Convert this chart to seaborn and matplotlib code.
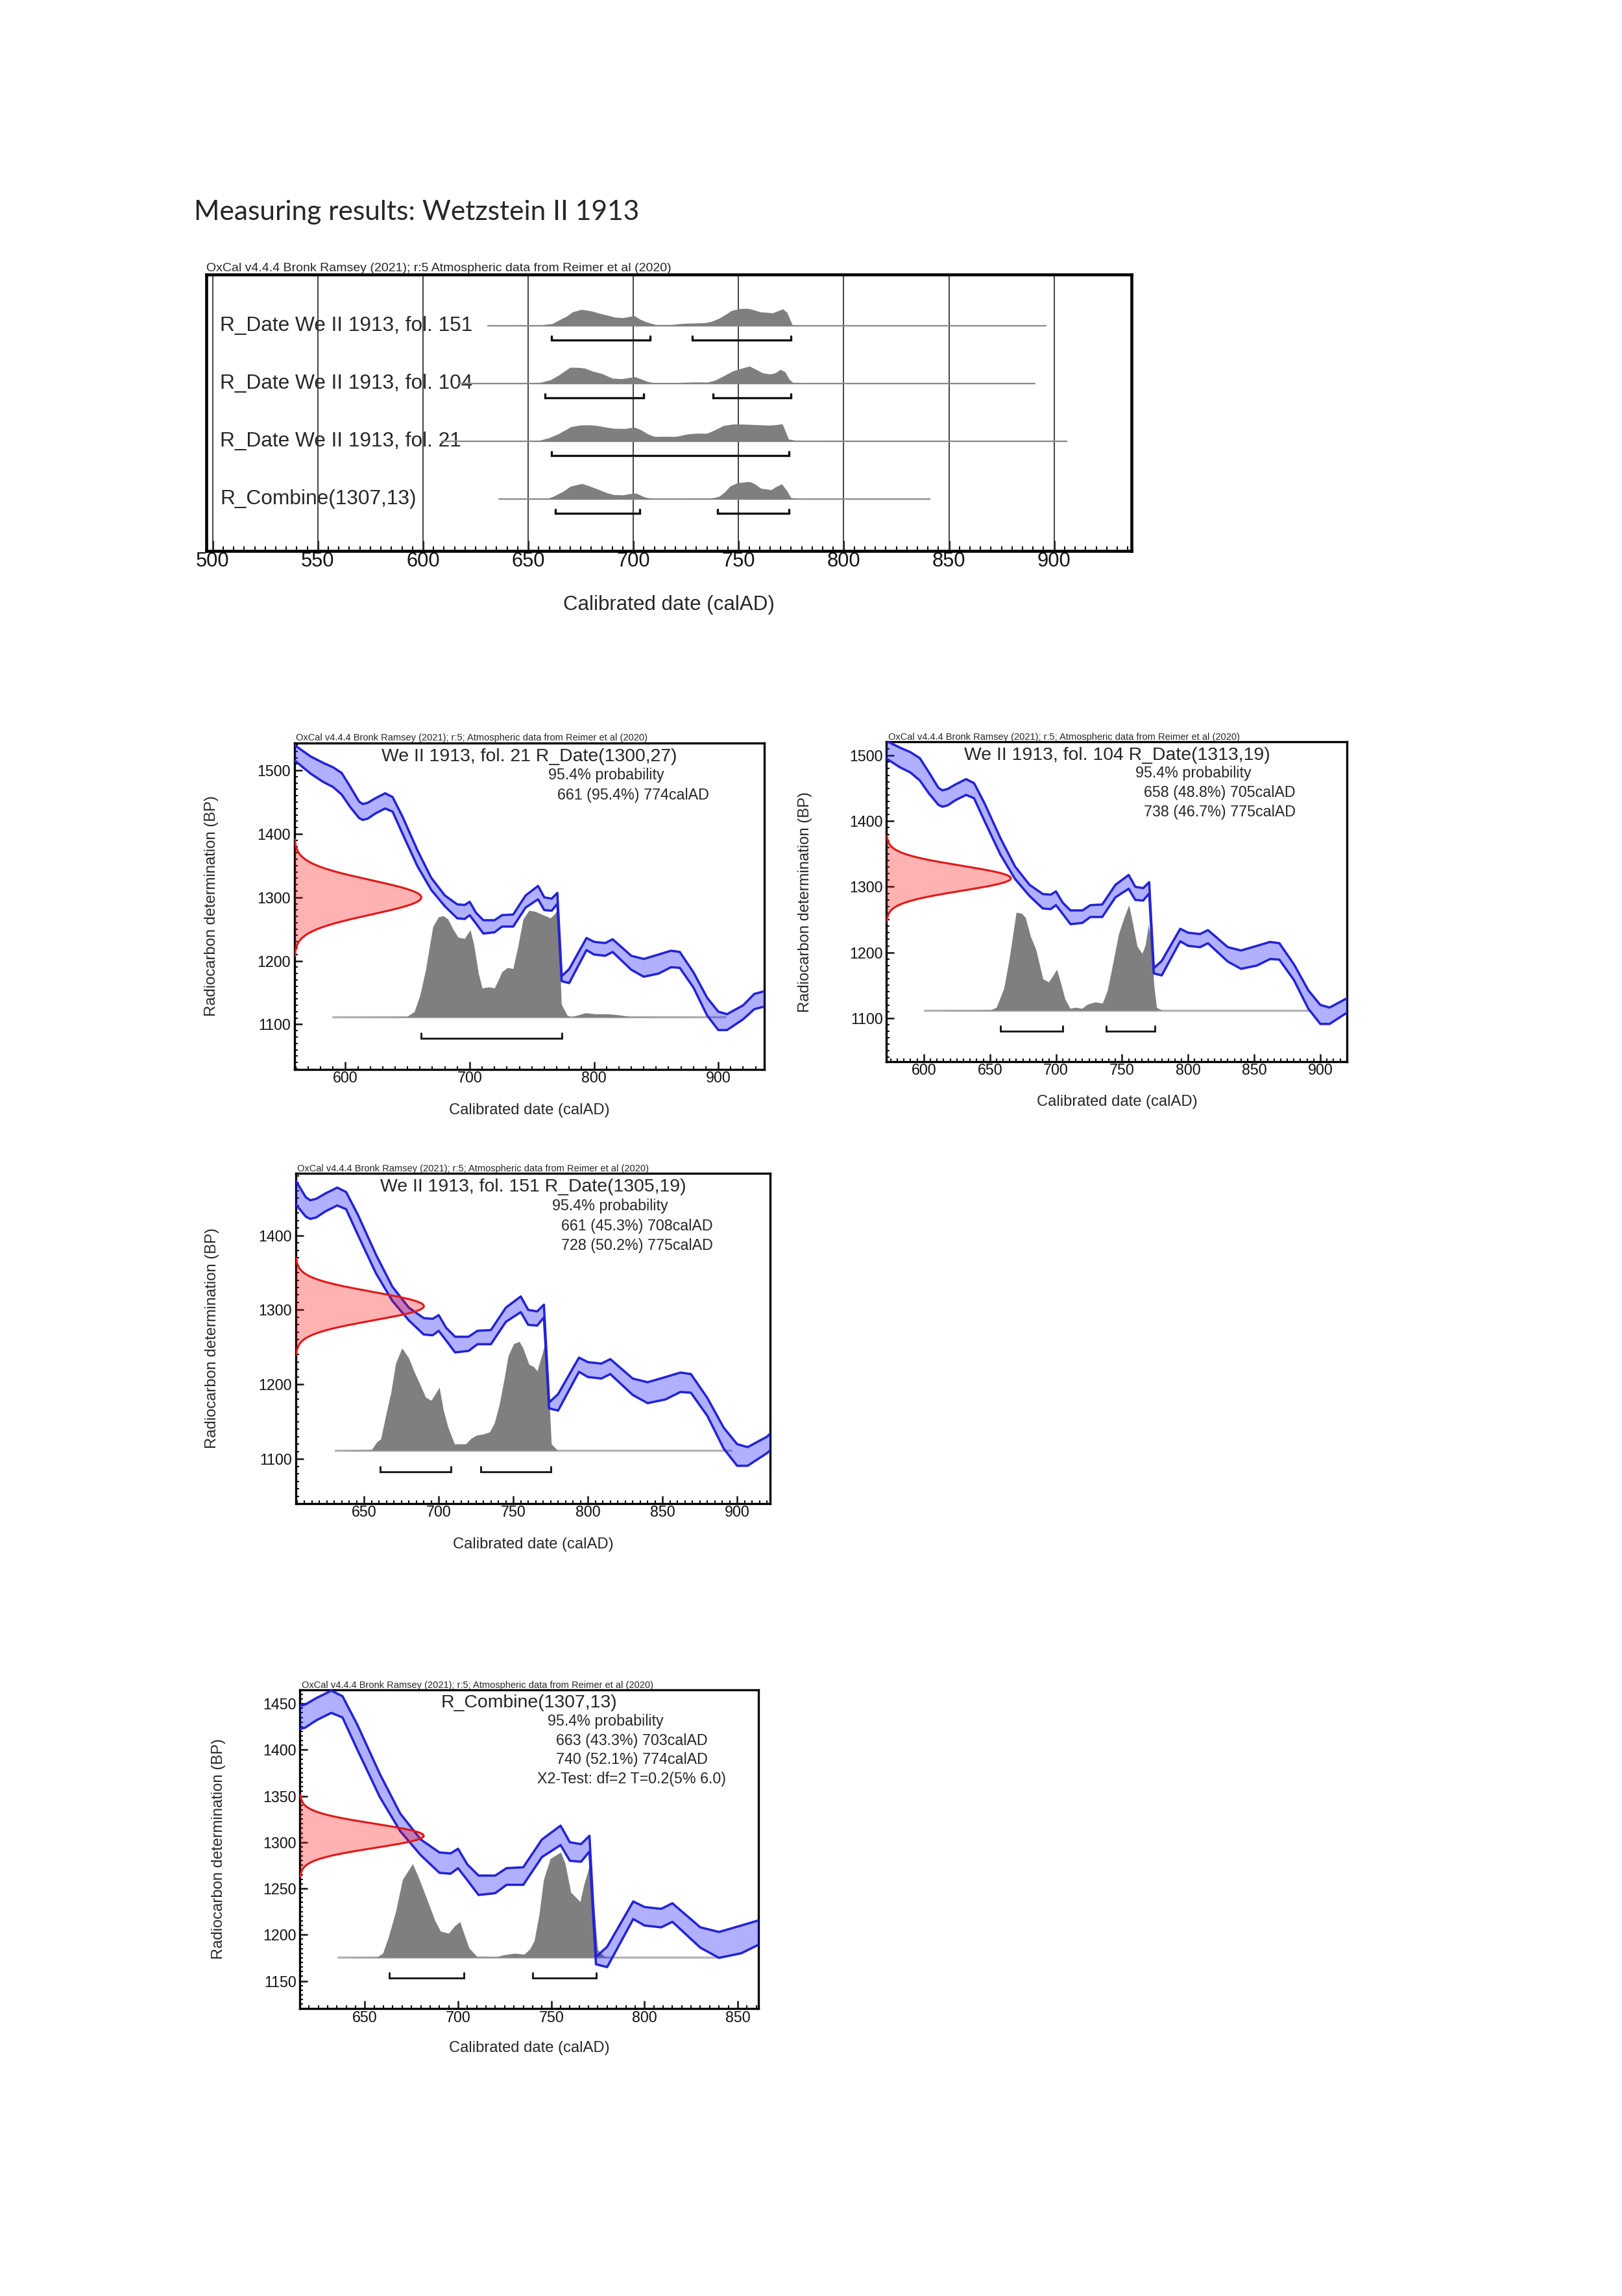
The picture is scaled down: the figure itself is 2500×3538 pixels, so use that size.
import numpy as np
import matplotlib
matplotlib.use("Agg")
import matplotlib.pyplot as plt
import seaborn as sns
from matplotlib import font_manager as fm
from matplotlib.ticker import MultipleLocator

# ---------------------------------------------------------------- data
# calibration curve (IntCal20 band)
cal_year = [559, 572, 582, 590, 597, 604, 611, 614, 618, 624, 632, 638, 646, 658,
            669, 680, 690, 696, 700, 705, 711, 720, 726, 735, 745, 755, 760, 766,
            770.5, 774, 780, 794, 800, 809, 815, 830, 840, 852, 862, 869, 880, 891,
            900, 907, 920, 929, 937]
cal_upper = [1540, 1522, 1512, 1505, 1496, 1474, 1451, 1447, 1449, 1456, 1464, 1458,
             1427, 1374, 1331, 1303, 1289, 1288, 1293, 1276, 1264, 1264, 1272, 1273,
             1303, 1318, 1300, 1298, 1307, 1176, 1187, 1236, 1230, 1228, 1234, 1208,
             1203, 1210, 1216, 1214, 1182, 1142, 1120, 1116, 1130, 1148, 1152]
cal_lower = [1516, 1495, 1482, 1474, 1462, 1442, 1425, 1422, 1424, 1432, 1440, 1435,
             1400, 1349, 1312, 1286, 1267, 1266, 1272, 1259, 1243, 1245, 1254, 1254,
             1284, 1297, 1280, 1279, 1290, 1168, 1165, 1217, 1210, 1208, 1214, 1186,
             1175, 1180, 1190, 1189, 1158, 1114, 1091, 1091, 1108, 1124, 1128]

# calibrated probability distributions (relative density)
fol21_year = [590, 649.4, 655.4, 659.9, 664.4, 670.4, 674.9, 678.8, 682.4, 686.9, 690.8,
              695.9, 700.4, 703.4, 707, 710, 715.4, 719.9, 722.9, 725.9, 730.4, 734.9,
              738.7, 743, 747.7, 752.8, 758.8, 764.8, 767.8, 770.8, 773.8, 778.3, 781.3,
              787.3, 793.3, 800.8, 811.3, 820.3, 829.3, 838.2, 905.7]
fol21_dens = [0, 0.005, 0.05, 0.2, 0.43, 0.84, 0.93, 0.94, 0.91, 0.81, 0.74,
              0.73, 0.81, 0.67, 0.41, 0.27, 0.28, 0.27, 0.34, 0.42, 0.46, 0.45,
              0.65, 0.91, 0.99, 0.98, 0.95, 0.92, 0.95, 1.0, 0.12, 0.02, 0,
              0.02, 0.04, 0.03, 0.03, 0.02, 0.005, 0.005, 0]

fol104_year = [600.8, 650.7, 654.9, 660.6, 664.8, 669.9, 674.1, 676.9, 680.8, 684.8, 690.1,
               694.4, 697.7, 700.6, 703.4, 706.8, 710.7, 714.6, 719.7, 723.9, 729.6, 735.2,
               738.9, 742.8, 747.3, 751.5, 755.2, 758.3, 761.4, 765.1, 767.6, 769.9, 772.1,
               774.1, 776.1, 780.3, 891]
fol104_dens = [0, 0.005, 0.03, 0.21, 0.5, 0.93, 0.92, 0.88, 0.7, 0.58, 0.3,
               0.27, 0.33, 0.39, 0.27, 0.11, 0.02, 0.03, 0.02, 0.06, 0.08, 0.07,
               0.19, 0.43, 0.72, 0.88, 1.0, 0.81, 0.61, 0.54, 0.62, 0.81, 0.67,
               0.24, 0.03, 0, 0]

fol151_year = [630.8, 655, 658.7, 661.2, 665, 668, 671.2, 675.4, 679.9, 683.7, 687.4,
               691.2, 694.9, 697.4, 700.4, 703.1, 706.1, 710.6, 714.1, 718.1, 721.6, 725.3,
               729.8, 734.1, 737.3, 740.6, 744.1, 746.6, 750.3, 754, 756.5, 760.5, 763.5,
               766, 769, 771, 773, 775.5, 779.7, 895.8]
fol151_dens = [0, 0.007, 0.08, 0.105, 0.35, 0.53, 0.8, 0.94, 0.85, 0.72, 0.61,
               0.49, 0.46, 0.51, 0.58, 0.375, 0.22, 0.06, 0.06, 0.06, 0.11, 0.14,
               0.15, 0.17, 0.25, 0.42, 0.67, 0.87, 0.98, 1.0, 0.94, 0.79, 0.77,
               0.73, 0.87, 0.97, 0.77, 0.06, 0, 0]

comb_year = [635.6, 656.6, 659.6, 662.6, 666.6, 670.2, 675.6, 678.6, 683.6, 687.6, 690.6,
             695, 698.2, 701, 703.5, 705.9, 710.1, 720.5, 724.5, 730.5, 735.5, 738.5,
             740.9, 743.5, 745.9, 749.5, 755.1, 757.5, 760.5, 765.5, 767.5, 770.5, 772.9,
             774.9, 778.5, 782.5, 841]
comb_dens = [0, 0.005, 0.04, 0.19, 0.44, 0.74, 0.89, 0.77, 0.54, 0.35, 0.25,
             0.23, 0.3, 0.34, 0.21, 0.09, 0.01, 0.005, 0.025, 0.04, 0.03, 0.08,
             0.16, 0.41, 0.74, 0.94, 1.0, 0.89, 0.62, 0.53, 0.69, 0.87, 0.49,
             0.075, 0.01, 0, 0]

# radiocarbon determinations (BP, 1 sigma)
date_mu = [1300, 1313, 1305, 1307]        # fol.21, fol.104, fol.151, combine
date_sigma = [27, 19, 19, 13]

# 95.4 % ranges
ranges_fol21 = [(661, 774)]
ranges_fol104 = [(658, 705), (738, 775)]
ranges_fol151 = [(661, 708), (728, 775)]
ranges_comb = [(663, 703), (740, 774)]

# extents of the grey base lines
panel_line = [(590, 905.7), (600.8, 891), (630.8, 895.8), (635.6, 841)]   # fol.21, 104, 151, combine
multi_line = [(631, 896), (617, 891), (609, 906), (636, 841)]              # rows: 151, 104, 21, combine

row_labels = ['R_Date We II 1913, fol. 151', 'R_Date We II 1913, fol. 104',
              'R_Date We II 1913, fol. 21', 'R_Combine(1307,13)']
panel_titles = ['We II 1913, fol. 21 R_Date(1300,27)', 'We II 1913, fol. 104 R_Date(1313,19)',
                'We II 1913, fol. 151 R_Date(1305,19)', 'R_Combine(1307,13)']
panel_notes = [['661 (95.4%) 774calAD'],
               ['658 (48.8%) 705calAD', '738 (46.7%) 775calAD'],
               ['661 (45.3%) 708calAD', '728 (50.2%) 775calAD'],
               ['663 (43.3%) 703calAD', '740 (52.1%) 774calAD']]
chi_text = 'X2-Test: df=2 T=0.2(5% 6.0)'
main_title = 'Measuring results: Wetzstein II 1913'
credit_multi = 'OxCal v4.4.4 Bronk Ramsey (2021); r:5 Atmospheric data from Reimer et al (2020)'
credit_panel = 'OxCal v4.4.4 Bronk Ramsey (2021); r:5; Atmospheric data from Reimer et al (2020)'
xlab = 'Calibrated date (calAD)'
ylab = 'Radiocarbon determination (BP)'

# ---------------------------------------------------------------- style
sns.set_theme(style='white')


def pick(*names):
    for n in names:
        try:
            fm.findfont(fm.FontProperties(family=n), fallback_to_default=False)
            return n
        except Exception:
            pass
    return 'DejaVu Sans'


ARIAL = pick('Liberation Sans', 'Arimo', 'DejaVu Sans')
TITLEF = pick('Lato', 'Open Sans', 'Noto Sans')
plt.rcParams['font.family'] = [ARIAL, 'DejaVu Sans']
plt.rcParams['axes.edgecolor'] = 'black'

GRAY = '#7f7f7f'
BLUE = '#2323d6'
RED = '#e01a1a'

W, H, DPI = 2500, 3538, 300
fig = plt.figure(figsize=(W / DPI, H / DPI), dpi=DPI)
fig.patch.set_facecolor('white')


def rect(l, t, r, b):
    return [l / W, 1 - b / H, (r - l) / W, (b - t) / H]


def ftext(x, y, s, **kw):
    return fig.text(x / W, 1 - y / H, s, **kw)


renderer = fig.canvas.get_renderer()


def fit_width(t, target):
    fs = t.get_fontsize()
    w = t.get_window_extent(renderer=renderer).width
    t.set_fontsize(fs * target / w)


t = ftext(299, 327, main_title, family=[TITLEF, 'DejaVu Sans'], fontsize=9, va='center', ha='left')
fit_width(t, 689)

# ---------------------------------------------------------------- multiplot
dens = {'fol21': (fol21_year, fol21_dens), 'fol104': (fol104_year, fol104_dens),
        'fol151': (fol151_year, fol151_dens), 'comb': (comb_year, comb_dens)}
rng = {'fol21': ranges_fol21, 'fol104': ranges_fol104, 'fol151': ranges_fol151, 'comb': ranges_comb}

L0, T0, R0, B0 = 318, 423, 1744, 849
ax0 = fig.add_axes(rect(L0, T0, R0, B0))
ax0.set_facecolor('white')
for g in range(500, 901, 50):
    ax0.axvline(g, color='#3a3a3a', lw=0.45, zorder=1)
order = ['fol151', 'fol104', 'fol21', 'comb']
trans = ax0.get_yaxis_transform()
for i, key in enumerate(order):
    r = i + 1
    ax0.text(0.015, r, row_labels[i], transform=trans, va='center', ha='left',
             fontsize=7.6, zorder=1.5)
    s, e = multi_line[i]
    yr, dn = dens[key]
    sns.lineplot(x=[s, e], y=[r, r], ax=ax0, color='#8a8a8a', lw=0.55, zorder=2,
                 estimator=None, sort=False)
    ax0.fill_between(yr, r, r - 0.3 * np.asarray(dn), color=GRAY, lw=0, zorder=3)
    for a, b in rng[key]:
        yb = r + 0.245
        ax0.plot([a, a, b, b], [yb - 0.065, yb, yb, yb - 0.065], color='#111111',
                 lw=0.8, zorder=4, solid_joinstyle='miter')
ax0.set_xlim(497, 936.8)
ax0.set_ylim(4.90, 0.114)
ax0.xaxis.set_major_locator(MultipleLocator(50))
ax0.xaxis.set_minor_locator(MultipleLocator(5))
ax0.set_yticks([])
ax0.tick_params(which='both', direction='in', bottom=True, left=False, top=False, right=False,
                colors='#111111')
ax0.tick_params(which='major', length=3.8, width=0.7, labelsize=7.4, pad=0.3)
ax0.tick_params(which='minor', length=1.6, width=0.5)
for sp in ax0.spines.values():
    sp.set_linewidth(1.1)
    sp.set_color('black')
ax0.set_xlabel(xlab, fontsize=7.5, va='center')
ax0.xaxis.set_label_coords(0.5, -0.195)
t = ax0.text(0.0, 1.0 + 10 / (B0 - T0), credit_multi, transform=ax0.transAxes,
             ha='left', va='center', fontsize=4.3)
fit_width(t, 713)

# ---------------------------------------------------------------- single panels
panels = [
    dict(key='fol21', box=(453.8, 1144.5, 1178, 1647.9), xlim=(559, 937), ylim=(1029, 1543.6),
         xt=(100, 10), yt=(100, 10), idx=0),
    dict(key='fol104', box=(1366.4, 1143, 2076.4, 1636), xlim=(571.8, 920.3), ylim=(1033.5, 1521),
         xt=(50, 5), yt=(100, 10), idx=1),
    dict(key='fol151', box=(456, 1807.7, 1186.8, 2316.5), xlim=(604.3, 922), ylim=(1040.7, 1483.4),
         xt=(50, 5), yt=(100, 10), idx=2),
    dict(key='comb', box=(462.4, 2603.5, 1168.5, 3095), xlim=(615.2, 861), ylim=(1120.2, 1465.2),
         xt=(50, 5), yt=(50, 5), idx=3),
]

for p in panels:
    l, tp, rr, bt = p['box']
    ax = fig.add_axes(rect(l, tp, rr, bt))
    ax.set_facecolor('white')
    k, i = p['key'], p['idx']
    x0, x1 = p['xlim']
    y0, y1 = p['ylim']
    ysp = y1 - y0
    base = y0 + 0.16 * ysp
    hs = 0.33 * ysp
    yr, dn = dens[k]
    s, e = panel_line[i]
    sns.lineplot(x=[s, e], y=[base, base], ax=ax, color='#b4b4b4', lw=0.8, zorder=2,
                 estimator=None, sort=False)
    ax.fill_between(yr, base, base + hs * np.asarray(dn), color=GRAY, lw=0, zorder=3)
    # calibration band
    ax.fill_between(cal_year, cal_lower, cal_upper, color='#1a1aff', alpha=0.34, lw=0, zorder=4)
    sns.lineplot(x=cal_year, y=cal_upper, ax=ax, color=BLUE, lw=0.85, zorder=5,
                 estimator=None, sort=False)
    sns.lineplot(x=cal_year, y=cal_lower, ax=ax, color=BLUE, lw=0.85, zorder=5,
                 estimator=None, sort=False)
    # measured date
    mu, sd = date_mu[i], date_sigma[i]
    yy = np.linspace(mu - 3.4 * sd, mu + 3.4 * sd, 400)
    ww = 0.27 * (x1 - x0) * np.exp(-0.5 * ((yy - mu) / sd) ** 2)
    ax.fill_betweenx(yy, x0, x0 + ww, color='#ff0000', alpha=0.3, lw=0, zorder=6)
    sns.lineplot(x=x0 + ww, y=yy, ax=ax, color=RED, lw=0.75, zorder=7,
                 estimator=None, sort=False)
    # ranges
    by = y0 + 0.095 * ysp
    bh = 0.017 * ysp
    for a, b in rng[k]:
        ax.plot([a, a, b, b], [by + bh, by, by, by + bh], color='#1a1a1a', lw=0.7,
                zorder=8, solid_joinstyle='miter')
    ax.set_xlim(x0, x1)
    ax.set_ylim(y0, y1)
    ax.xaxis.set_major_locator(MultipleLocator(p['xt'][0]))
    ax.xaxis.set_minor_locator(MultipleLocator(p['xt'][1]))
    ax.yaxis.set_major_locator(MultipleLocator(p['yt'][0]))
    ax.yaxis.set_minor_locator(MultipleLocator(p['yt'][1]))
    ax.tick_params(which='both', direction='in', bottom=True, left=True, top=False, right=False,
                   colors='#111111')
    ax.tick_params(which='major', length=2.9, width=0.6, labelsize=5.6, pad=0.6)
    ax.tick_params(axis='y', which='major', pad=1.4)
    ax.tick_params(which='minor', length=1.3, width=0.5)
    for sp in ax.spines.values():
        sp.set_linewidth(0.8)
        sp.set_color('black')
    ax.set_xlabel(xlab, fontsize=5.7, va='center')
    ax.xaxis.set_label_coords(0.5, -0.125)
    ax.set_ylabel(ylab, fontsize=5.7, va='center')
    ax.yaxis.set_label_coords(-0.177, 0.5)
    # texts
    ax.text(0.5, 0.958, panel_titles[i], transform=ax.transAxes, ha='center', va='center',
            fontsize=6.8)
    ax.text(0.54, 0.901, '95.4% probability', transform=ax.transAxes, ha='left', va='center',
            fontsize=5.6)
    for j, line in enumerate(panel_notes[i]):
        ax.text(0.559, 0.840 - 0.0605 * j, line, transform=ax.transAxes, ha='left',
                va='center', fontsize=5.6)
    if k == 'comb':
        ax.text(0.518, 0.720, chi_text, transform=ax.transAxes, ha='left', va='center',
                fontsize=5.6)
    t = ax.text(0.003, 1.0 + 7 / (bt - tp), credit_panel, transform=ax.transAxes,
                ha='left', va='center', fontsize=3.2)
    fit_width(t, 535)

fig.savefig('out.png', dpi=DPI, facecolor='white')
